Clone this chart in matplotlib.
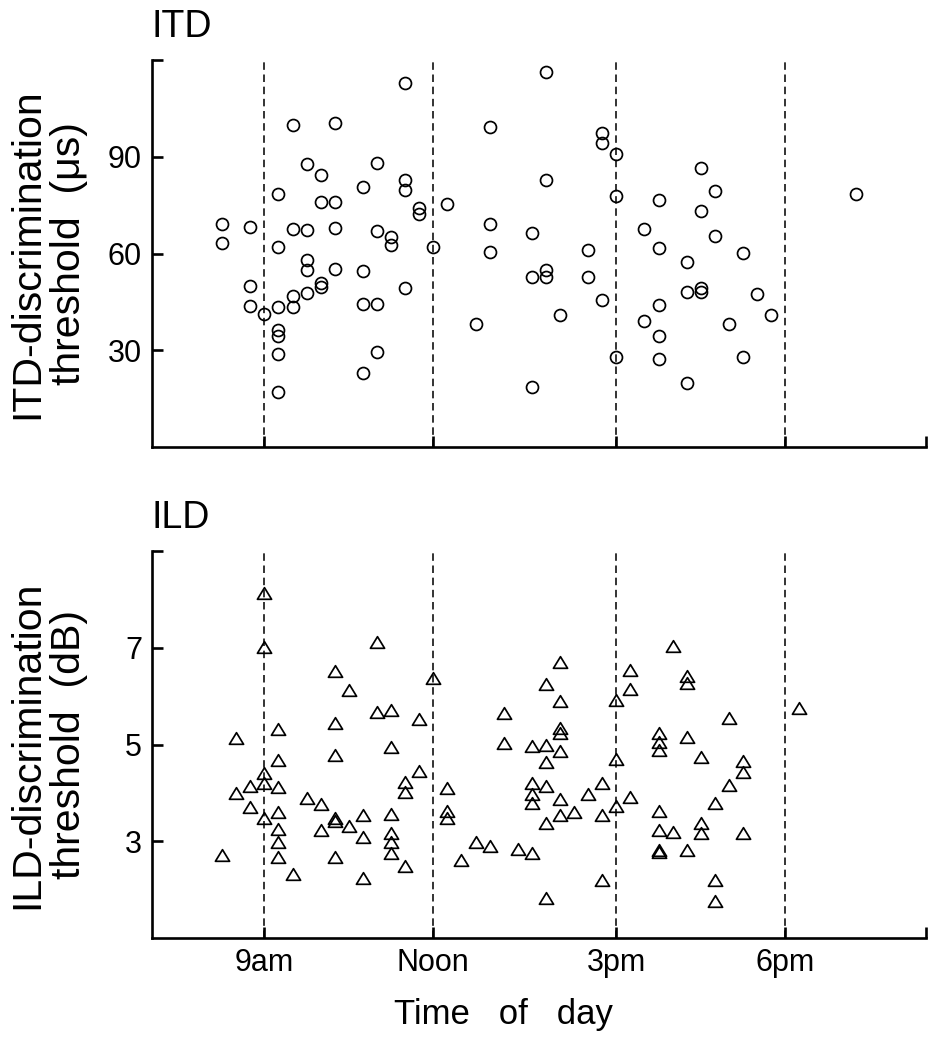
#!/usr/bin/env python3
"""ITD / ILD discrimination thresholds plotted against time of day."""

import matplotlib

matplotlib.use("Agg")
import matplotlib.pyplot as plt
from matplotlib.path import Path

# --- data (time in hours, quarter-hour steps) ---
ITD_TIME = [
    11.5, 9.5, 10.25, 13.0, 9.75, 11.0, 10.0, 10.75, 11.5, 11.5,
    9.25, 10.0, 10.25, 11.75, 11.75, 12.25, 8.25, 8.25, 8.75, 9.5,
    9.75, 10.25, 11.0, 11.25, 11.25, 13.0, 13.75, 9.25, 12.0, 13.0,
    9.75, 9.75, 10.25, 10.75, 13.75, 8.75, 10.0, 10.0, 9.75, 9.5,
    11.5, 8.75, 9.0, 9.25, 9.5, 10.75, 11.0, 12.75, 9.25, 9.25,
    9.25, 11.0, 10.75, 9.25, 13.75,
    14.0, 15.0, 15.0, 15.25, 14.0, 15.25, 14.0, 14.0, 14.75, 14.75,
    15.0, 14.25, 15.25, 16.75, 17.0, 16.0, 16.75, 19.5, 15.75, 17.0,
    16.0, 17.5, 16.5, 16.75, 16.75, 16.5, 17.75, 16.0, 15.75, 18.0,
    17.25, 16.0, 16.0, 17.5, 16.5,
]
ITD_US = [
    112.8, 99.8, 100.4, 99.2, 87.7, 88.0, 84.5, 80.5, 82.8, 79.8,
    78.6, 75.9, 75.9, 74.1, 72.2, 75.4, 69.1, 63.3, 68.4, 67.5,
    67.2, 67.9, 67.1, 65.0, 62.6, 69.2, 66.3, 62.0, 62.1, 60.6,
    58.1, 55.0, 55.3, 54.5, 52.8, 50.1, 50.9, 49.6, 47.8, 46.9,
    49.3, 43.9, 41.3, 43.5, 43.5, 44.4, 44.3, 38.2, 36.2, 34.5,
    28.9, 29.6, 23.0, 17.1, 18.6,
    116.3, 97.3, 94.3, 91.0, 82.8, 77.8, 55.0, 52.9, 61.0, 52.9,
    45.7, 41.1, 27.9, 86.4, 79.5, 76.7, 73.3, 78.5, 67.7, 65.6,
    61.6, 60.3, 57.5, 49.3, 48.0, 48.0, 47.5, 44.1, 39.2, 40.9,
    38.2, 34.5, 27.5, 27.9, 19.9,
]

ILD_TIME = [
    9.0, 9.0, 11.0, 10.25, 10.5, 12.0, 11.0, 11.25, 11.75, 13.25,
    10.25, 9.25, 8.5, 13.25, 13.75, 11.25, 10.25, 9.25, 11.75, 9.0,
    9.0, 11.5, 11.5, 8.75, 8.5, 9.25, 9.75, 10.0, 8.75, 12.25,
    12.25, 12.25, 9.0, 9.25, 10.25, 10.25, 10.75, 11.25, 13.75, 13.75,
    13.75, 9.25, 10.0, 10.5, 11.25, 10.75, 9.25, 11.25, 12.75, 13.0,
    13.5, 13.75, 8.25, 9.25, 10.25, 11.25, 12.5, 11.5, 9.5, 10.75,
    16.25, 14.25, 15.5, 15.5, 16.5, 16.5, 14.0, 14.25, 15.25, 18.5,
    17.25, 14.25, 14.25, 16.0, 16.0, 16.0, 16.5, 14.0, 14.25, 14.0,
    15.25, 16.75, 17.5, 17.5, 17.25, 14.0, 15.0, 14.75, 14.25, 15.5,
    15.25, 17.0, 14.5, 14.25, 15.0, 16.0, 14.0, 16.0, 16.25, 16.75,
    16.75, 17.5, 16.0, 16.0, 16.5, 15.0, 17.0, 14.0, 17.0,
]
ILD_DB = [
    8.13, 7.02, 7.11, 6.52, 6.12, 6.38, 5.68, 5.72, 5.52, 5.66,
    5.45, 5.32, 5.13, 5.04, 4.97, 4.95, 4.79, 4.68, 4.46, 4.41,
    4.21, 4.22, 4.02, 4.15, 4.01, 4.13, 3.89, 3.77, 3.71, 4.10,
    3.62, 3.48, 3.48, 3.60, 3.48, 3.42, 3.55, 3.56, 4.21, 3.98,
    3.79, 3.26, 3.24, 3.31, 3.17, 3.09, 2.99, 2.98, 2.98, 2.91,
    2.84, 2.76, 2.73, 2.67, 2.67, 2.76, 2.62, 2.49, 2.33, 2.24,
    7.04, 6.70, 6.54, 6.14, 6.41, 6.27, 6.25, 5.90, 5.92, 5.75,
    5.55, 5.34, 5.24, 5.24, 5.05, 4.89, 5.15, 4.99, 4.87, 4.65,
    4.70, 4.74, 4.67, 4.44, 4.17, 4.15, 4.20, 3.98, 3.88, 3.92,
    3.74, 3.79, 3.60, 3.55, 3.55, 3.62, 3.38, 3.24, 3.20, 3.38,
    3.18, 3.17, 2.82, 2.79, 2.82, 2.20, 2.20, 1.84, 1.78,
]

# dashed reference lines / tick positions as drawn in the original
TICK_HOURS = [9.0, 12.0, 15.25, 18.25]
TICK_LABELS = ["9am", "Noon", "3pm", "6pm"]
X_START, X_END = 7.0, 20.75

plt.rcParams["font.family"] = ["Liberation Sans", "DejaVu Sans"]

# wide, flat open triangle
TRIANGLE = Path([(-1, -0.82), (1, -0.82), (0, 0.82), (0, 0)], closed=True)


def style_axes(ax, yticks, ylim, ylabel, title, show_xlabels):
    ax.set_xlim(X_START, X_END)
    ax.set_ylim(*ylim)
    for t in TICK_HOURS:
        ax.axvline(t, color="#111111", lw=1.2, ls=(0, (4.5, 2.8)), zorder=1)

    ax.set_xticks(TICK_HOURS + [X_END])
    ax.set_xticklabels(TICK_LABELS + [""] if show_xlabels else [""] * 5)
    ax.set_yticks(yticks + [ylim[1]])
    ax.set_yticklabels([str(v) for v in yticks] + [""])

    for side in ("top", "right"):
        ax.spines[side].set_visible(False)
    for side in ("left", "bottom"):
        ax.spines[side].set_linewidth(1.9)
    ax.tick_params(direction="in", length=8, width=1.9, labelsize=22, pad=7)

    ax.set_ylabel(ylabel, fontsize=29.5, linespacing=1.12)
    ax.yaxis.set_label_coords(-0.082, 0.5)
    ax.text(0.0, 1.06, title, transform=ax.transAxes, ha="left",
            va="baseline", fontsize=27)


fig = plt.figure(figsize=(9.33, 10.5), dpi=100)
ax_itd = fig.add_axes([0.1626, 0.574, 0.830, 0.3689])
ax_ild = fig.add_axes([0.1626, 0.1064, 0.830, 0.3689])

ax_itd.plot(ITD_TIME, ITD_US, ls="none", marker="o", ms=8.6, mfc="none",
            mec="black", mew=1.25, zorder=3)
ax_ild.plot(ILD_TIME, ILD_DB, ls="none", marker=TRIANGLE, ms=10.2, mfc="none",
            mec="black", mew=1.25, zorder=3)

style_axes(ax_itd, [30, 60, 90], (0, 120),
           "ITD-discrimination\nthreshold  (μs)", "ITD", False)
style_axes(ax_ild, [3, 5, 7], (1, 9),
           "ILD-discrimination\nthreshold  (dB)", "ILD", True)
ax_ild.set_xlabel("Time   of   day", fontsize=25)
ax_ild.xaxis.set_label_coords(0.4537, -0.155)
ax_ild.xaxis.label.set_va("top")

fig.savefig("out.png", dpi=100)
